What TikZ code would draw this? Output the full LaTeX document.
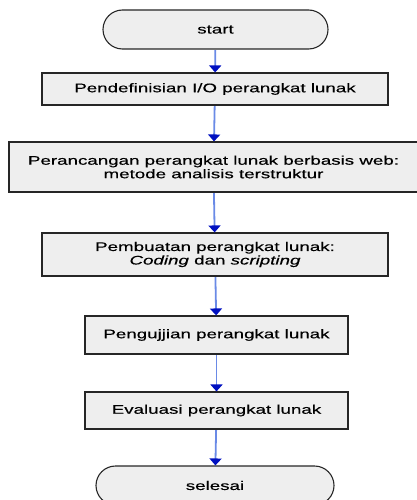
\documentclass[tikz,border=0pt]{standalone}
\usepackage{fontspec}
\setmainfont{Liberation Sans}[FakeStretch=1.5, FakeBold=0.4]
\usetikzlibrary{arrows.meta}
\definecolor{boxfill}{HTML}{EEEEEE}
\definecolor{flowline}{HTML}{6A8AE6}
\definecolor{flowhead}{HTML}{0010C0}

\begin{document}
\begin{tikzpicture}[x=1pt, y=-1pt,
  font=\fontsize{12.5}{13.5}\selectfont,
  box/.style={draw=black!85, line width=1.1pt, fill=boxfill, align=center, inner sep=0pt},
  term/.style={box, rounded corners=19.5pt, minimum width=#1, minimum height=39pt},
  flow/.style={draw=flowline, line width=1.8pt, -{Triangle[width=12pt, length=7pt, color=flowhead]}, shorten <=0.6pt}]
\useasboundingbox (0,0) rectangle (416,500);
\node[term=225pt] (start) at (215.5,29.5) {start};
\node[box, minimum width=346pt, minimum height=32pt] (io) at (215,89) {Pendefinisian I/O perangkat lunak};
\node[box, minimum width=409pt, minimum height=50pt] (desain) at (213.5,167) {Perancangan perangkat lunak berbasis web:\\metode analisis terstruktur};
\node[box, minimum width=346pt, minimum height=43pt] (coding) at (215,254.5) {Pembuatan perangkat lunak:\\\textit{Coding} dan \textit{scripting}};
\node[box, minimum width=263pt, minimum height=38pt] (uji) at (216.5,335) {Pengujjian perangkat lunak};
\node[box, minimum width=263pt, minimum height=37pt] (evaluasi) at (216.5,410.5) {Evaluasi perangkat lunak};
\node[term=238pt] (selesai) at (215,485.5) {selesai};
\draw[flow] (start) -- (io);
\draw[flow] (io) -- (desain);
\draw[flow] (desain) -- (coding);
\draw[flow] (coding) -- (uji);
\draw[flow] (uji) -- (evaluasi);
\draw[flow] (evaluasi) -- (selesai);
\end{tikzpicture}
\end{document}
